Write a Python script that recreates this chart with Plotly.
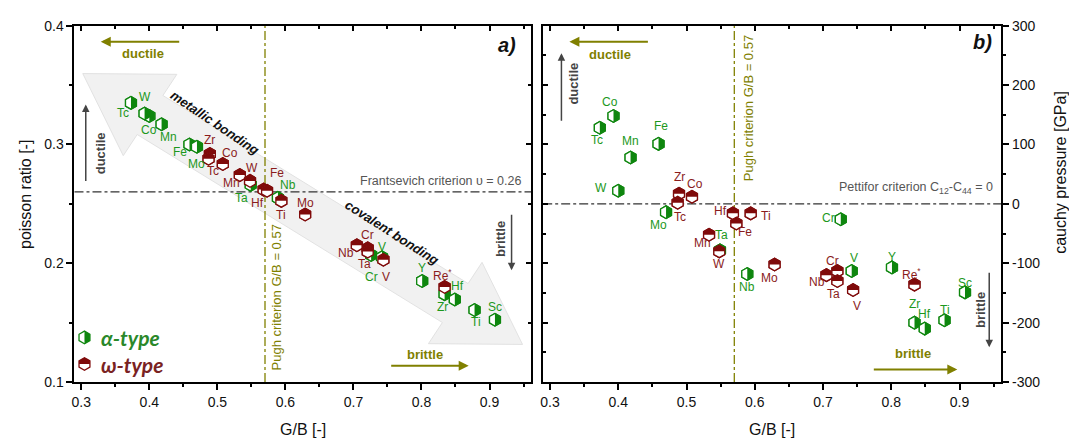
import math
import plotly.graph_objects as go

W, H = 1069, 445

# ---------------- data ----------------
alpha_elements = ["Tc", "W", "Co", "Mn", "Fe", "Mo", "Ta", "Nb", "Cr", "V", "Y", "Zr", "Hf", "Ti", "Sc"]
alpha_gb = [0.373, 0.400, 0.393, 0.418, 0.459, 0.470, 0.549, 0.589, 0.726, 0.742, 0.801, 0.834, 0.849, 0.878, 0.908]
alpha_poisson = [0.335, 0.324, 0.326, 0.317, 0.300, 0.298, 0.266, 0.255, 0.207, 0.205, 0.185, 0.174, 0.1695, 0.1606, 0.1525]
alpha_cauchy = [128, 22, 148, 78, 101, -14, -78, -118, -26, -113, -107, -200, -210, -196, -149]

omega_elements = ["Zr", "Co", "Tc", "Mn", "W", "Hf", "Fe", "Ti", "Mo", "Nb", "Cr", "Ta", "V", "Re"]
omega_gb = [0.489, 0.508, 0.487, 0.533, 0.548, 0.568, 0.573, 0.594, 0.629, 0.705, 0.721, 0.721, 0.744, 0.834]
omega_poisson = [0.292, 0.2836, 0.288, 0.2742, 0.2693, 0.262, 0.261, 0.2525, 0.241, 0.2152, 0.2125, 0.2098, 0.203, 0.180]
omega_cauchy = [17, 12, 2, -52, -80, -16, -33, -16, -102, -120, -113, -130, -145, -136]

pugh_criterion = 0.57
frantsevich_criterion = 0.26
pettifor_criterion = 0

x_ticks = [0.3, 0.4, 0.5, 0.6, 0.7, 0.8, 0.9]
y1_ticks = [0.1, 0.2, 0.3, 0.4]
y2_ticks = [-300, -200, -100, 0, 100, 200, 300]

# ---------------- style ----------------
MG, MR = "#0e860e", "#7f0a0a"        # marker colours
TG, TR = "#1c981c", "#8a1c1c"        # label colours
OLIVE = "#808000"
GRAY = "#444444"
FONT = "Arial, Liberation Sans, sans-serif"

# label offsets in screen pixels (dx, dy-down)
alpha_off_L = {"Tc": (-8, 10), "W": (-4, -19), "Co": (4, 16), "Mn": (7, 13), "Fe": (-9, 8), "Mo": (0, 17),
               "Ta": (-9, 13), "Nb": (10, -13), "Cr": (0, 22), "V": (0, -10), "Y": (0, -13), "Zr": (-2, 13),
               "Hf": (3, -13), "Ti": (1, 12), "Sc": (0, -13)}
omega_off_L = {"Zr": (0, -14), "Co": (7, -11), "Tc": (4, 12), "Mn": (-8, 8), "W": (2, -13), "Hf": (-6, 13),
               "Fe": (10, -18), "Ti": (0, 14), "Mo": (0, -12), "Nb": (-11, 8), "Cr": (0, -13), "Ta": (-3, 12),
               "V": (3, 17), "Re": (-2, -12)}
alpha_off_R = {"Co": (-3, -14), "Tc": (-3, 12), "Mn": (0, -17), "Fe": (2, -18), "W": (-17, -3), "Mo": (-8, 13),
               "Ta": (2, -15), "Nb": (0, 13), "Cr": (-12, -1), "V": (2, -13), "Y": (0, -10), "Zr": (0, -19),
               "Hf": (0, -15), "Ti": (0, -10), "Sc": (0, -9)}
omega_off_R = {"Zr": (0, -17), "Co": (3, -13), "Tc": (2, 14), "Hf": (-12, -2), "Ti": (15, 3), "Fe": (9, 9),
               "Mn": (-7, 8), "W": (0, 13), "Mo": (-5, 14), "Cr": (-5, -10), "Nb": (-9, 7), "Ta": (-4, 13),
               "V": (4, 16), "Re": (-3, -11)}

# panel geometry (pixels)
L0, L1 = 71.7, 529.5
R0, R1 = 541.7, 1001.0
T, B = 18.3, 388.0
XR = [0.29, 0.961]


def P(px, py):
    return px / W, 1 - py / H


# hexagon paths (pixel units, y up)
RH = 6.3
t3, t2 = RH * math.sqrt(3) / 2, RH / 2
HEX = f"M{t3},{t2} L0,{RH} L{-t3},{t2} L{-t3},{-t2} L0,{-RH} L{t3},{-t2} Z"
HALF_ALPHA = f"M0,{RH} L{t3},{t2} L{t3},{-t2} L0,{-RH} Z"          # right half coloured
HALF_OMEGA = f"M{-t3},0 L{-t3},{t2} L0,{RH} L{t3},{t2} L{t3},0 Z"  # top half coloured


def hex_shapes(xv, yv, xref, yref, color, half):
    base = dict(type="path", xref=xref, yref=yref, xsizemode="pixel", ysizemode="pixel",
                xanchor=xv, yanchor=yv, layer="above")
    s1 = dict(base, path=HEX, fillcolor="white", line=dict(color=color, width=1.3))
    s2 = dict(base, path=half, fillcolor=color, line=dict(width=0))
    return [s1, s2]


fig = go.Figure()
shapes = []
annotations = []

# ---- decorative band arrow (left panel) ----
T1 = (80.0, 68.0)
T2 = (521.0, 349.0)
dx, dy = T2[0] - T1[0], T2[1] - T1[1]
ln = math.hypot(dx, dy)
d = (dx / ln, dy / ln)
n = (-d[1], d[0])
Lh, Hw, Bw = 80, 50, 24


def pt(base, a, b):
    return (base[0] + a * d[0] + b * n[0], base[1] + a * d[1] + b * n[1])


poly = [T1, pt(T1, Lh, Hw), pt(T1, Lh, Bw), pt(T2, -Lh, Bw), pt(T2, -Lh, Hw), T2,
        pt(T2, -Lh, -Hw), pt(T2, -Lh, -Bw), pt(T1, Lh, -Bw), pt(T1, Lh, -Hw)]
path = "M " + " L ".join(f"{P(*p)[0]:.5f},{P(*p)[1]:.5f}" for p in poly) + " Z"
shapes.append(dict(type="path", xref="paper", yref="paper", path=path, fillcolor="#f1f1f1",
                   line=dict(color="#e2e2e2", width=1), layer="below"))

# ---- criterion lines ----
shapes.append(dict(type="line", xref="x domain", yref="y", x0=0, x1=1, y0=frantsevich_criterion,
                   y1=frantsevich_criterion, line=dict(color="#333333", width=1.2, dash="dashdot"), layer="below"))
shapes.append(dict(type="line", xref="x", yref="y domain", x0=pugh_criterion, x1=pugh_criterion, y0=0, y1=1,
                   line=dict(color=OLIVE, width=1.3, dash="dashdot"), layer="below"))
shapes.append(dict(type="line", xref="x2 domain", yref="y2", x0=0, x1=1, y0=pettifor_criterion,
                   y1=pettifor_criterion, line=dict(color="#333333", width=1.2, dash="dashdot"), layer="below"))
shapes.append(dict(type="line", xref="x2", yref="y2 domain", x0=pugh_criterion, x1=pugh_criterion, y0=0, y1=1,
                   line=dict(color=OLIVE, width=1.3, dash="dashdot"), layer="below"))

# ---- data traces + half-filled hexagon markers + labels ----
panels = [
    ("x", "y", alpha_poisson, omega_poisson, alpha_off_L, omega_off_L),
    ("x2", "y2", alpha_cauchy, omega_cauchy, alpha_off_R, omega_off_R),
]
for xr, yr, a_vals, o_vals, a_off, o_off in panels:
    for name, els, gb, vals, col, tcol, half, off in [
        ("α-type", alpha_elements, alpha_gb, a_vals, MG, TG, HALF_ALPHA, a_off),
        ("ω-type", omega_elements, omega_gb, o_vals, MR, TR, HALF_OMEGA, o_off),
    ]:
        fig.add_trace(go.Scatter(x=gb, y=vals, xaxis=xr, yaxis=yr, mode="markers", name=name,
                                 text=els, showlegend=False,
                                 marker=dict(symbol="hexagon", size=2 * RH, color="white",
                                             line=dict(color=col, width=1.3))))
        for e, xv, yv in zip(els, gb, vals):
            shapes += hex_shapes(xv, yv, xr, yr, col, half)
            ox, oy = off[e]
            label = "Re<sup>*</sup>" if e == "Re" else e
            annotations.append(dict(x=xv, y=yv, xref=xr, yref=yr, xshift=ox, yshift=-oy, text=label,
                                    showarrow=False, font=dict(family=FONT, size=12, color=tcol),
                                    xanchor="center", yanchor="middle"))

# dummy traces for mirrored inside-tick axes
for xa, ya in [("x3", "y"), ("x", "y3"), ("x4", "y2"), ("x2", "y4")]:
    fig.add_trace(go.Scatter(x=[None], y=[None], xaxis=xa, yaxis=ya, showlegend=False, hoverinfo="skip"))

# ---- legend (custom) ----
for (py, col, half, txt, tcol) in [(341.7, MG, HALF_ALPHA, "α-type", "#2a882a"),
                                    (369.3, MR, HALF_OMEGA, "ω-type", "#7a2222")]:
    xa_, ya_ = P(81.7, py)
    shapes += hex_shapes(xa_, ya_, "paper", "paper", col, half)
    tx, ty = P(96.5, py)
    annotations.append(dict(x=tx, y=ty, xref="paper", yref="paper", text=f"<b><i>{txt}</i></b>",
                            showarrow=False, xanchor="left", yanchor="middle",
                            font=dict(family="Lato, Open Sans, sans-serif", size=21, color=tcol)))


def text_ann(px, py, text, size, color, angle=0, family=FONT, xanchor="center"):
    x, y = P(px, py)
    return dict(x=x, y=y, xref="paper", yref="paper", text=text, showarrow=False, textangle=angle,
                xanchor=xanchor, yanchor="middle", font=dict(family=family, size=size, color=color))


def arrow(tail, tip, color, width):
    x, y = P(*tip)
    return dict(x=x, y=y, xref="paper", yref="paper", ax=tail[0] - tip[0], ay=tail[1] - tip[1],
                text="", showarrow=True, arrowhead=2, arrowsize=1, arrowwidth=width, arrowcolor=color)


annotations += [
    # olive ductile / brittle
    arrow((178, 35), (98, 35), OLIVE, 2),
    text_ann(140, 47, "<b>ductile</b>", 13, OLIVE),
    arrow((388, 371), (467, 371), OLIVE, 2),
    text_ann(423, 359, "<b>brittle</b>", 13, OLIVE),
    arrow((648, 35), (568, 35), OLIVE, 2),
    text_ann(609, 48, "<b>ductile</b>", 13, OLIVE),
    arrow((872, 375), (957, 375), OLIVE, 2),
    text_ann(913, 358, "<b>brittle</b>", 13, OLIVE),
    # gray vertical arrows
    arrow((83, 178), (83, 100), GRAY, 1.5),
    text_ann(98, 151, "<b>ductile</b>", 13, GRAY, angle=-90),
    arrow((510, 215), (510, 272), GRAY, 1.5),
    text_ann(499, 240, "<b>brittle</b>", 13, GRAY, angle=-90),
    arrow((560, 116), (560, 47), GRAY, 1.5),
    text_ann(572, 78, "<b>ductile</b>", 13, GRAY, angle=-90),
    arrow((989, 276), (989, 352), GRAY, 1.5),
    text_ann(980, 313, "<b>brittle</b>", 13, GRAY, angle=-90),
    # criteria text
    text_ann(521, 179, "Frantsevich criterion υ = 0.26", 12.5, "#555555", xanchor="right"),
    text_ann(995, 187, "Pettifor criterion C<sub>12</sub>-C<sub>44</sub> = 0", 12.5, "#555555", xanchor="right"),
    text_ann(274, 300, "Pugh criterion G/B = 0.57", 13, OLIVE, angle=-90),
    text_ann(747, 104, "Pugh criterion G/B = 0.57", 13, OLIVE, angle=-90),
    # bonding text
    text_ann(212, 119, "<b><i>metallic bonding</i></b>", 13, "#111111", angle=34),
    text_ann(390, 233, "<b><i>covalent bonding</i></b>", 13, "#111111", angle=32.5),
    # panel labels
    text_ann(505, 38, "<b><i>a)</i></b>", 20, "#111111"),
    text_ann(982, 35, "<b><i>b)</i></b>", 20, "#111111"),
    # axis titles
    text_ann(22, 193, "poisson ratio [-]", 16, "#111111", angle=-90),
    text_ann(1061, 171, "cauchy pressure [GPa]", 16, "#111111", angle=-90),
    text_ann(300.5, 437, "G/B [-]", 16, "#111111"),
    text_ann(771.5, 437, "G/B [-]", 16, "#111111"),
]

# ---- axes ----
dom_L = [L0 / W, L1 / W]
dom_R = [R0 / W, R1 / W]
dom_Y = [1 - B / H, 1 - T / H]
tickfont = dict(family=FONT, size=14, color="#111111")

common_main = dict(showline=True, linewidth=2, linecolor="black", mirror=True, showgrid=False, zeroline=False,
                   ticks="outside", ticklen=6, tickwidth=1.5, tickcolor="black", tickfont=tickfont)
common_mirror = dict(showline=False, showgrid=False, zeroline=False, ticks="inside", ticklen=5, tickwidth=1.5,
                     tickcolor="black", showticklabels=False)

xfmt = dict(tickvals=x_ticks, ticktext=[f"{v:.1f}" for v in x_ticks], range=XR,
            minor=dict(dtick=0.05, tick0=0.3, ticks="outside", ticklen=3, tickwidth=1.5, tickcolor="black"))
xfmt_in = dict(tickvals=x_ticks, range=XR,
               minor=dict(dtick=0.05, tick0=0.3, ticks="inside", ticklen=3, tickwidth=1.5, tickcolor="black"))
y1fmt = dict(tickvals=y1_ticks, ticktext=[f"{v:.1f}" for v in y1_ticks], range=[0.1, 0.4],
             minor=dict(dtick=0.05, tick0=0.1, ticks="outside", ticklen=3, tickwidth=1.5, tickcolor="black"))
y1fmt_in = dict(tickvals=y1_ticks, range=[0.1, 0.4],
                minor=dict(dtick=0.05, tick0=0.1, ticks="inside", ticklen=3, tickwidth=1.5, tickcolor="black"))
y2fmt = dict(tickvals=y2_ticks, ticktext=[str(v) for v in y2_ticks], range=[-300, 300],
             minor=dict(dtick=50, tick0=0, ticks="outside", ticklen=3, tickwidth=1.5, tickcolor="black"))
y2fmt_in = dict(tickvals=y2_ticks, range=[-300, 300],
                minor=dict(dtick=50, tick0=0, ticks="inside", ticklen=3, tickwidth=1.5, tickcolor="black"))

fig.update_layout(
    width=W, height=H,
    margin=dict(l=0, r=0, t=0, b=0),
    paper_bgcolor="white", plot_bgcolor="white",
    showlegend=False,
    font=dict(family=FONT, color="#111111"),
    xaxis=dict(domain=dom_L, anchor="y", **common_main, **xfmt),
    yaxis=dict(domain=dom_Y, anchor="x", **common_main, **y1fmt),
    xaxis2=dict(domain=dom_R, anchor="y2", **common_main, **xfmt),
    yaxis2=dict(domain=dom_Y, anchor="x2", side="right", **common_main, **y2fmt),
    xaxis3=dict(overlaying="x", anchor="y", side="top", **common_mirror, **xfmt_in),
    yaxis3=dict(overlaying="y", anchor="x", side="right", **common_mirror, **y1fmt_in),
    xaxis4=dict(overlaying="x2", anchor="y2", side="top", **common_mirror, **xfmt_in),
    yaxis4=dict(overlaying="y2", anchor="x2", side="left", **common_mirror, **y2fmt_in),
    shapes=shapes,
    annotations=annotations,
)

fig.write_html("out.html")
